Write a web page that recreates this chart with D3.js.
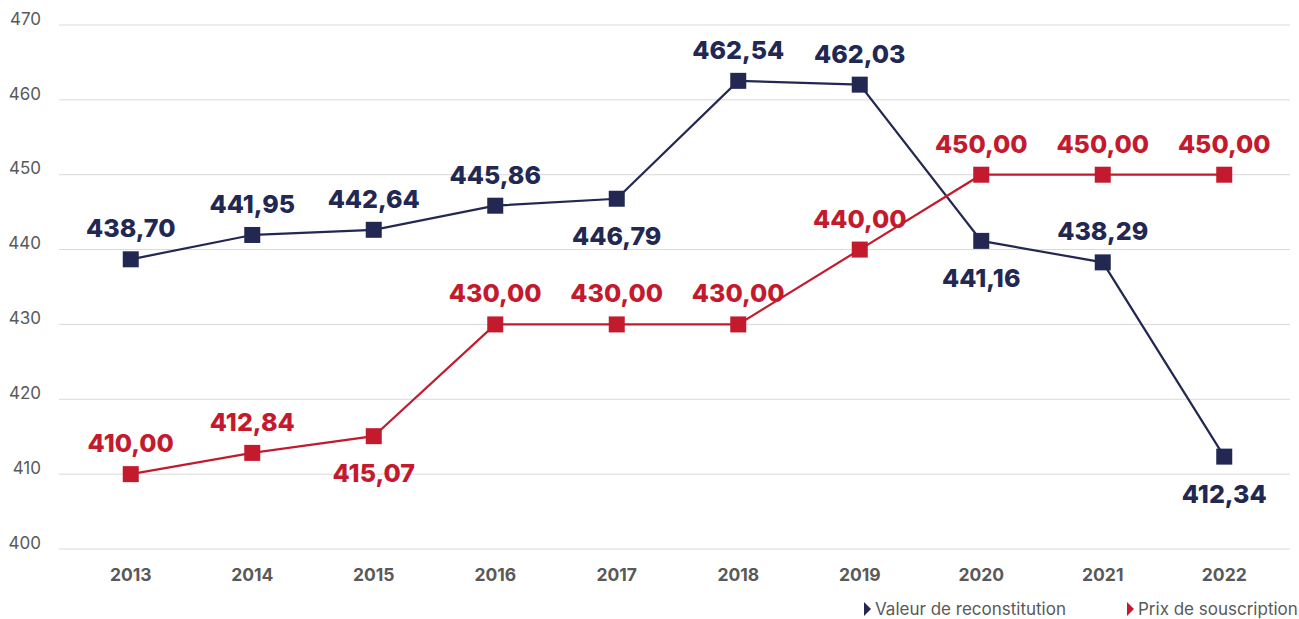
<!DOCTYPE html>
<html>
<head>
<meta charset="utf-8">
<script src="https://cdn.jsdelivr.net/npm/d3@7"></script>
<style>
  body { margin: 0; background: #fff; }
  svg text { font-family: Inter, Roboto, "Noto Sans", sans-serif; }
</style>
</head>
<body>
<div id="chart"></div>
<script>
// données
const years = ["2013", "2014", "2015", "2016", "2017", "2018", "2019", "2020", "2021", "2022"];
const valeurReconstitution = [438.70, 441.95, 442.64, 445.86, 446.79, 462.54, 462.03, 441.16, 438.29, 412.34];
const prixSouscription = [410.00, 412.84, 415.07, 430.00, 430.00, 430.00, 440.00, 450.00, 450.00, 450.00];
const yTicks = [400, 410, 420, 430, 440, 450, 460, 470];
// côté de l'étiquette (1 = dessus, -1 = dessous)
const valeurSide = [1, 1, 1, 1, -1, 1, 1, -1, 1, -1];
const prixSide = [1, 1, -1, 1, 1, 1, 1, 1, 1, 1];

const width = 1299, height = 619;
const navy = "#222851", red = "#c41a2e";

const svg = d3.select("#chart").append("svg")
    .attr("width", width)
    .attr("height", height);

const x = d3.scaleBand()
    .domain(years)
    .range([70, 1285])
    .padding(0);

const y = d3.scaleLinear()
    .domain([400, 470])
    .range([549, 25]);

// grille horizontale
svg.append("g")
    .selectAll("line")
    .data(yTicks)
    .enter()
    .append("line")
    .attr("x1", 59)
    .attr("x2", 1290)
    .attr("y1", d => y(d))
    .attr("y2", d => y(d))
    .attr("stroke", "#d9d9d9")
    .attr("stroke-width", 1);

// axe y
const yAxis = svg.append("g")
    .attr("transform", "translate(41,0)")
    .call(d3.axisLeft(y).tickValues(yTicks).tickSize(0).tickPadding(0));
yAxis.select(".domain").remove();
yAxis.selectAll("text")
    .attr("fill", "#595959")
    .style("font-size", "17px")
    .attr("dy", "-0.05em");

// axe x
const xAxis = svg.append("g")
    .attr("transform", "translate(0,549)")
    .call(d3.axisBottom(x).tickSize(0).tickPadding(20));
xAxis.select(".domain").remove();
xAxis.selectAll("text")
    .attr("fill", "#595959")
    .style("font-size", "17.5px")
    .style("font-weight", "700");

const cx = d => x(d) + x.bandwidth() / 2;

function drawSeries(values, color, sides) {
    const pts = years.map((yr, i) => ({ yr, v: values[i], side: sides[i] }));
    const line = d3.line().x(d => cx(d.yr)).y(d => y(d.v));
    svg.append("path")
        .datum(pts)
        .attr("d", line)
        .attr("fill", "none")
        .attr("stroke", color)
        .attr("stroke-width", 2.2);
    svg.append("g")
        .selectAll("rect")
        .data(pts)
        .enter()
        .append("rect")
        .attr("x", d => cx(d.yr) - 8)
        .attr("y", d => y(d.v) - 8)
        .attr("width", 16)
        .attr("height", 16)
        .attr("fill", color);
    svg.append("g")
        .selectAll("text")
        .data(pts)
        .enter()
        .append("text")
        .attr("x", d => cx(d.yr))
        .attr("y", d => d.side > 0 ? y(d.v) - 22 : y(d.v) + 46)
        .attr("text-anchor", "middle")
        .attr("fill", color)
        .style("font-size", "25px")
        .style("font-weight", "800")
        .text(d => d.v.toFixed(2).replace(".", ","));
}

drawSeries(valeurReconstitution, navy, valeurSide);
drawSeries(prixSouscription, red, prixSide);

// légende
const legendItems = [
    { label: "Valeur de reconstitution", color: navy, x: 864 },
    { label: "Prix de souscription", color: red, x: 1127 }
];
const legend = svg.append("g")
    .selectAll("g")
    .data(legendItems)
    .enter()
    .append("g")
    .attr("transform", d => `translate(${d.x},609)`);
legend.append("path")
    .attr("d", "M0,-7 L7,0 L0,7 Z")
    .attr("fill", d => d.color);
legend.append("text")
    .attr("x", 11)
    .attr("y", 0)
    .attr("dy", "0.35em")
    .attr("fill", "#595959")
    .style("font-size", "17px")
    .text(d => d.label);
</script>
</body>
</html>
